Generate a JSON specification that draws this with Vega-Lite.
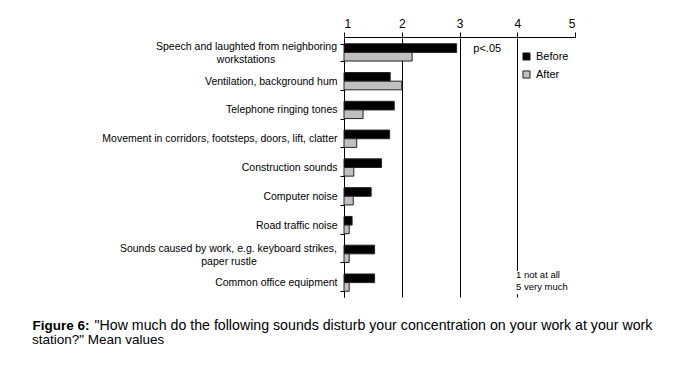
{
  "$schema": "https://vega.github.io/schema/vega-lite/v6.json",
  "width": 231,
  "height": 259,
  "autosize": {"type": "none"},
  "padding": {"left": 344, "top": 38, "right": 115, "bottom": 68},
  "background": "white",
  "config": {"view": {"stroke": null}, "font": "Liberation Sans"},
  "title": {
    "text": "station?\" Mean values",
    "orient": "bottom",
    "anchor": "start",
    "frame": "group",
    "dx": -312,
    "offset": 1,
    "font": "Liberation Sans",
    "fontSize": 13.5,
    "fontWeight": "normal",
    "color": "#000"
  },
  "data": {
    "values": [
      {"item": "Speech and laughted from neighboring workstations", "period": "Before", "value": 2.95},
      {"item": "Speech and laughted from neighboring workstations", "period": "After", "value": 2.18},
      {"item": "Ventilation, background hum", "period": "Before", "value": 1.80},
      {"item": "Ventilation, background hum", "period": "After", "value": 2.00},
      {"item": "Telephone ringing tones", "period": "Before", "value": 1.87},
      {"item": "Telephone ringing tones", "period": "After", "value": 1.33},
      {"item": "Movement in corridors, footsteps, doors, lift, clatter", "period": "Before", "value": 1.79},
      {"item": "Movement in corridors, footsteps, doors, lift, clatter", "period": "After", "value": 1.22},
      {"item": "Construction sounds", "period": "Before", "value": 1.65},
      {"item": "Construction sounds", "period": "After", "value": 1.17},
      {"item": "Computer noise", "period": "Before", "value": 1.47},
      {"item": "Computer noise", "period": "After", "value": 1.16},
      {"item": "Road traffic noise", "period": "Before", "value": 1.14},
      {"item": "Road traffic noise", "period": "After", "value": 1.09},
      {"item": "Sounds caused by work, e.g. keyboard strikes, paper rustle", "period": "Before", "value": 1.53},
      {"item": "Sounds caused by work, e.g. keyboard strikes, paper rustle", "period": "After", "value": 1.09},
      {"item": "Common office equipment", "period": "Before", "value": 1.53},
      {"item": "Common office equipment", "period": "After", "value": 1.09}
    ]
  },
  "layer": [
    {
      "mark": {"type": "bar", "stroke": "#222", "strokeWidth": 1},
      "encoding": {
        "y": {
          "field": "item",
          "type": "nominal",
          "scale": {
            "domain": [
              "Speech and laughted from neighboring workstations",
              "Ventilation, background hum",
              "Telephone ringing tones",
              "Movement in corridors, footsteps, doors, lift, clatter",
              "Construction sounds",
              "Computer noise",
              "Road traffic noise",
              "Sounds caused by work, e.g. keyboard strikes, paper rustle",
              "Common office equipment"
            ],
            "paddingInner": 0.4,
            "paddingOuter": 0.2
          },
          "axis": {
            "title": "Figure 6:",
            "titleAngle": 0,
            "titleX": -312,
            "titleY": 291,
            "titleAlign": "left",
            "titleBaseline": "alphabetic",
            "titleFont": "Liberation Sans",
            "titleFontSize": 13.5,
            "titleFontWeight": "bold",
            "titleColor": "#000",
            "orient": "left",
            "tickBand": "extent",
            "tickSize": 4,
            "tickColor": "#000",
            "domainColor": "#000",
            "labelColor": "#000",
            "labelFont": "Liberation Sans",
            "labelFontSize": 10.5,
            "labelPadding": 3,
            "labelLimit": 300,
            "labelExpr": "indexof(datum.label, 'Speech') == 0 || indexof(datum.label, 'Sounds') == 0 ? '' : datum.label"
          }
        },
        "yOffset": {"field": "period", "sort": ["Before", "After"]},
        "x": {
          "field": "value",
          "type": "quantitative",
          "scale": {"domain": [1, 5]},
          "axis": {
            "title": "\"How much do the following sounds disturb your concentration on your work at your work",
            "titleX": -250,
            "titleY": 292,
            "titleAlign": "left",
            "titleAnchor": "start",
            "titleBaseline": "alphabetic",
            "titleFont": "Liberation Sans",
            "titleFontSize": 14.2,
            "titleFontWeight": "normal",
            "titleColor": "#000",
            "orient": "top",
            "offset": 1,
            "values": [1, 2, 3, 4, 5],
            "format": "d",
            "grid": true,
            "gridColor": "#000",
            "gridOpacity": {"condition": {"test": "datum.value == 5", "value": 0}, "value": 1},
            "domainColor": "#000",
            "tickColor": "#000",
            "tickSize": 5,
            "labelPadding": 2,
            "labelColor": "#000",
            "labelFont": "Liberation Sans",
            "labelFontSize": 12
          }
        },
        "x2": {"datum": 1},
        "color": {
          "field": "period",
          "type": "nominal",
          "scale": {"domain": ["Before", "After"], "range": ["#000000", "#c0c0c0"]},
          "legend": {
            "title": null,
            "orient": "none",
            "legendX": 177,
            "legendY": 13,
            "symbolType": "square",
            "symbolSize": 50,
            "symbolStrokeColor": "#222",
            "symbolStrokeWidth": 1,
            "symbolOpacity": 1,
            "labelFont": "Liberation Sans",
            "labelFontSize": 11,
            "labelColor": "#000",
            "rowPadding": 5
          }
        }
      }
    },
    {
      "data": {"values": [{"x1": 3.96, "x2": 4.8, "item": "Common office equipment"}]},
      "mark": {"type": "bar", "fill": "white", "height": {"band": 1.35}},
      "encoding": {
        "x": {"field": "x1", "type": "quantitative"},
        "x2": {"field": "x2"},
        "y": {"field": "item", "type": "nominal"}
      }
    },
    {
      "data": {"values": [
        {"x": 1, "item": "Speech and laughted from neighboring workstations", "label": "Speech and laughted from neighboring"},
        {"x": 1, "item": "Sounds caused by work, e.g. keyboard strikes, paper rustle", "label": "Sounds caused by work, e.g. keyboard strikes,"}
      ]},
      "mark": {"type": "text", "font": "Liberation Sans", "fontSize": 10.5, "color": "#000", "align": "right", "baseline": "middle", "dx": -7, "dy": -5},
      "encoding": {
        "x": {"field": "x", "type": "quantitative"},
        "y": {"field": "item", "type": "nominal"},
        "text": {"field": "label"}
      }
    },
    {
      "data": {"values": [{"x": 1, "item": "Speech and laughted from neighboring workstations", "label": "workstations"}]},
      "mark": {"type": "text", "font": "Liberation Sans", "fontSize": 10.5, "color": "#000", "align": "center", "baseline": "middle", "dx": -98, "dy": 8},
      "encoding": {
        "x": {"field": "x", "type": "quantitative"},
        "y": {"field": "item", "type": "nominal"},
        "text": {"field": "label"}
      }
    },
    {
      "data": {"values": [{"x": 1, "item": "Sounds caused by work, e.g. keyboard strikes, paper rustle", "label": "paper rustle"}]},
      "mark": {"type": "text", "font": "Liberation Sans", "fontSize": 10.5, "color": "#000", "align": "center", "baseline": "middle", "dx": -115, "dy": 8},
      "encoding": {
        "x": {"field": "x", "type": "quantitative"},
        "y": {"field": "item", "type": "nominal"},
        "text": {"field": "label"}
      }
    },
    {
      "data": {"values": [{"x": 3.48, "item": "Speech and laughted from neighboring workstations", "label": "p<.05"}]},
      "mark": {"type": "text", "font": "Liberation Sans", "fontSize": 11, "color": "#000", "baseline": "middle", "dy": -3},
      "encoding": {
        "x": {"field": "x", "type": "quantitative"},
        "y": {"field": "item", "type": "nominal"},
        "text": {"field": "label"}
      }
    },
    {
      "data": {"values": [{"x": 3.98, "item": "Common office equipment"}]},
      "mark": {"type": "text", "font": "Liberation Sans", "fontSize": 9.5, "color": "#000", "align": "left", "baseline": "middle", "lineHeight": 12, "dy": -8},
      "encoding": {
        "x": {"field": "x", "type": "quantitative"},
        "y": {"field": "item", "type": "nominal"},
        "text": {"value": ["1 not at all", "5 very much"]}
      }
    }
  ]
}
